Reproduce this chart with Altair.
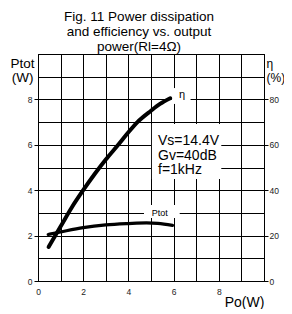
import altair as alt
import pandas as pd

# Ptot (W) vs Po (W)
po_ptot = [0.45, 1.0, 2.0, 3.0, 4.0, 4.8, 5.3, 5.95]
ptot_w = [2.05, 2.16, 2.35, 2.47, 2.53, 2.56, 2.54, 2.45]

# efficiency (%) vs Po (W)
po_eta = [0.47, 1.0, 1.5, 2.0, 2.5, 3.0, 3.55, 4.0, 4.4, 5.0, 5.4, 5.85]
eta_pct = [15, 24, 32.5, 40, 47, 53.5, 60, 65.5, 70, 75, 78, 80.5]

title_lines = ["Fig. 11 Power dissipation", "and efficiency vs. output", "power(Rl=4Ω)"]
cond_text = "Vs=14.4V\nGv=40dB\nf=1kHz"

FONT = "Liberation Sans, Arial, sans-serif"
NFONT = "Liberation Sans Narrow, Arial Narrow, Liberation Sans, sans-serif"

ptot_df = pd.DataFrame({"po": po_ptot, "v": ptot_w})
eta_df = pd.DataFrame({"po": po_eta, "v": eta_pct})

# white label boxes (data units of Po / Ptot axes)
box_df = pd.DataFrame({
    "x": [5.04, 4.69, 5.92],
    "x2": [8.11, 6.27, 6.75],
    "y": [4.49, 2.78, 7.80],
    "y2": [6.92, 3.35, 8.50],
})

xs = alt.Scale(domain=[0, 10], nice=False, zero=False)
ys = alt.Scale(domain=[0, 10], nice=False, zero=False)
es = alt.Scale(domain=[0, 100], nice=False, zero=False)

even = "datum.value % 2 == 0 && datum.value < 10"

x_axis = alt.Axis(
    values=list(range(11)),
    labelExpr=f"{even} ? datum.label : ''",
    grid=True, gridColor="#000", gridOpacity=1, gridWidth=1,
    domain=True, domainColor="#000", domainWidth=1,
    ticks=False, tickSize=0,
    labelFont=NFONT, labelFontSize=8.5, labelColor="#222", labelPadding=6,
    labelAngle=0, labelFlush=False,
    title="Po(W)", titleFont=FONT, titleFontSize=14, titleFontWeight="normal",
    titleColor="#000", titleAlign="center", titleBaseline="alphabetic",
    titleX=206, titleY=25,
)

y_axis = alt.Axis(
    values=list(range(11)),
    labelExpr=f"{even} ? datum.label : ''",
    grid=True, gridColor="#000", gridOpacity=1, gridWidth=1,
    domain=True, domainColor="#000", domainWidth=1,
    ticks=True, tickColor="#000", tickSize=4, tickWidth=1,
    tickOpacity={"condition": {"test": even, "value": 1}, "value": 0},
    labelFont=NFONT, labelFontSize=8.5, labelColor="#222", labelPadding=2,
    labelFlush=False,
    title=["Ptot", "(W)"], titleFont=FONT, titleFontSize=13.5, titleFontWeight="normal",
    titleColor="#000", titleAngle=0, titleAlign="center", titleBaseline="alphabetic",
    titleX=-16, titleY=13, titleLineHeight=14.5,
)

e_axis = alt.Axis(
    orient="right",
    values=[0, 20, 40, 60, 80],
    grid=False,
    domain=True, domainColor="#000", domainWidth=1,
    ticks=True, tickColor="#000", tickSize=4, tickWidth=1,
    labelFont=NFONT, labelFontSize=8.5, labelColor="#222", labelPadding=1,
    labelFlush=False,
    title=["η", "(%)"], titleFont=FONT, titleFontSize=12, titleFontWeight="normal",
    titleColor="#000", titleAngle=0, titleAlign="left", titleBaseline="alphabetic",
    titleX=2, titleY=13, titleLineHeight=14.5,
)


def X(field):
    return alt.X(field, scale=xs, axis=x_axis)


def Y(field):
    return alt.Y(field, scale=ys, axis=y_axis)


boxes = alt.Chart(box_df).mark_rect(color="white", opacity=1).encode(
    x=X("x:Q"), x2="x2:Q", y=Y("y:Q"), y2="y2:Q",
)

ptot_line = alt.Chart(ptot_df).mark_line(
    color="#000", strokeWidth=3.2, interpolate="monotone", strokeCap="round"
).encode(x=X("po:Q"), y=Y("v:Q"))

cond_label = alt.Chart(pd.DataFrame({"x": [5.31], "y": [5.99], "t": [cond_text]})).mark_text(
    align="left", baseline="alphabetic", lineBreak="\n", lineHeight=14.6,
    font=FONT, fontSize=14, color="#000",
).encode(x=X("x:Q"), y=Y("y:Q"), text="t:N")

ptot_label = alt.Chart(pd.DataFrame({"x": [5.39], "y": [3.0], "t": ["Ptot"]})).mark_text(
    align="center", baseline="middle", font=NFONT, fontSize=9, color="#000",
).encode(x=X("x:Q"), y=Y("y:Q"), text="t:N")

eta_label = alt.Chart(pd.DataFrame({"x": [6.37], "y": [8.08], "t": ["η"]})).mark_text(
    align="center", baseline="alphabetic", font=FONT, fontSize=11, color="#000",
).encode(x=X("x:Q"), y=Y("y:Q"), text="t:N")

left = alt.layer(boxes, ptot_line, cond_label, ptot_label, eta_label)

eta_line = alt.Chart(eta_df).mark_line(
    color="#000", strokeWidth=4, interpolate="monotone", strokeCap="round"
).encode(
    x=X("po:Q"),
    y=alt.Y("v:Q", scale=es, axis=e_axis),
)

chart = alt.layer(left, eta_line).resolve_scale(y="independent").properties(
    width=226, height=227,
    autosize=alt.AutoSizeParams(type="none"),
    padding={"left": 30, "top": 46, "right": 20, "bottom": 28},
    title=alt.Title(
        title_lines, font=FONT, fontSize=13.5, fontWeight="normal", color="#000",
        lineHeight=15, anchor="middle", dx=-12, offset=1,
    ),
).configure_view(stroke="#000", strokeWidth=1)

chart.save("out.html", embed_options={"renderer": "svg", "actions": False})
